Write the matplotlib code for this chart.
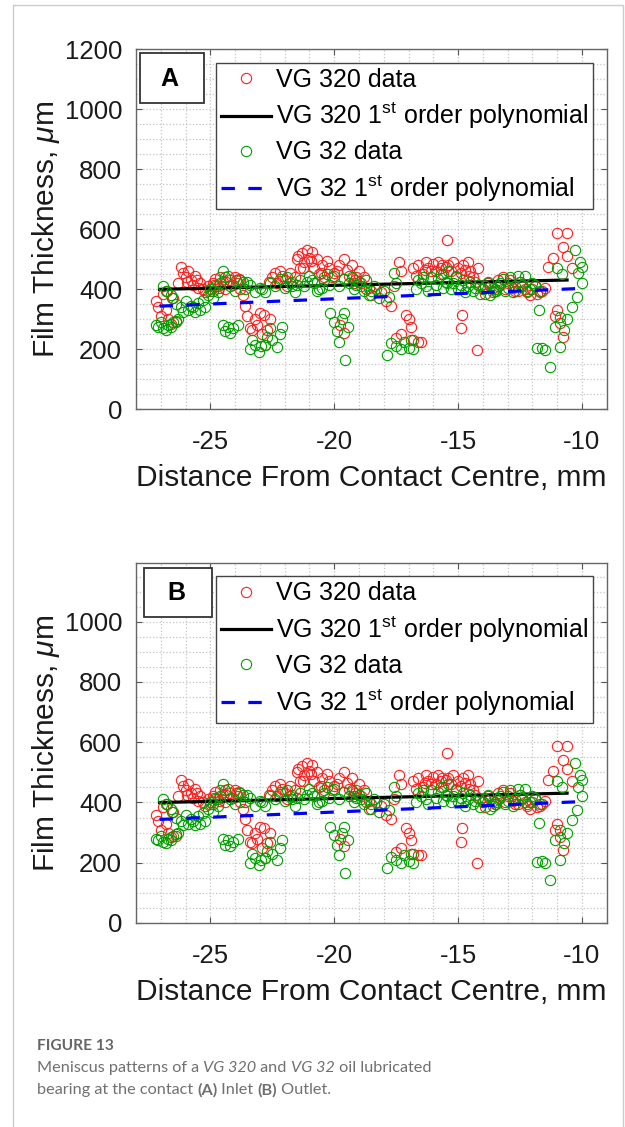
import numpy as np
import matplotlib
matplotlib.use('Agg')
import matplotlib.pyplot as plt
from matplotlib.patches import Rectangle
from matplotlib.ticker import MultipleLocator

plt.rcParams['font.family'] = ['Liberation Sans', 'DejaVu Sans']
plt.rcParams['mathtext.fontset'] = 'custom'
plt.rcParams['mathtext.rm'] = 'Liberation Sans'
plt.rcParams['mathtext.it'] = 'Liberation Sans:italic'
plt.rcParams['axes.unicode_minus'] = False

# VG 320 film thickness readings (distance mm, thickness um)
vg320_x = [-27.2, -27.1, -27.0, -26.9, -26.8, -26.7, -26.6, -26.5, -26.4, -26.3,
           -26.2, -26.1, -26.0, -25.9, -25.8, -25.7, -25.6, -25.5, -25.4, -25.3,
           -25.1, -25.0, -24.9, -24.8, -24.7, -24.6, -24.5, -24.4, -24.3, -24.2,
           -24.1, -24.0, -23.9, -23.8, -23.7, -23.6, -23.5, -23.4, -23.3, -23.2,
           -23.1, -23.0, -22.9, -22.85, -22.8, -22.7, -22.6, -22.5, -22.3, -22.1,
           -22.0, -21.8, -21.6, -21.5, -21.4, -21.3, -21.2, -21.1, -21.0, -20.9,
           -20.8, -20.7, -20.6, -20.5, -20.4, -20.2, -20.0, -19.8, -19.6, -19.5,
           -19.4, -19.3, -19.1, -19.0, -18.9, -18.7, -18.5, -18.3, -18.1, -17.9,
           -17.7, -17.6, -17.4, -17.3, -19.6, -19.75, -17.5, -17.3, -17.1, -17.0,
           -16.9, -16.8, -16.6, -16.5, -16.8, -16.6, -16.4, -16.3, -16.2, -16.0,
           -15.9, -15.8, -15.7, -15.6, -15.45, -15.4, -15.3, -15.2, -15.0, -14.9,
           -14.8, -14.7, -14.6, -14.5, -14.4, -14.3, -14.85, -14.9, -14.25, -14.1,
           -14.0, -13.8, -13.6, -13.4, -13.2, -13.0, -12.8, -12.6, -12.4, -12.2,
           -12.0, -11.8, -11.6, -11.35, -11.15, -11.0, -10.75, -10.6, -10.6, -10.4,
           -11.0, -10.9, -10.75, -11.1, -26.75, -25.95, -24.65, -23.95, -22.4, -21.9,
           -21.7, -20.3, -20.1, -19.9, -19.2, -18.8, -18.6, -16.7, -16.1, -15.5,
           -15.1, -14.2, -13.9, -13.7, -13.5, -13.3, -13.1, -12.9, -12.7, -12.5,
           -12.3, -12.1, -11.9, -11.7, -11.5, -25.2, -24.35, -22.2, -21.45, -20.95,
           -25.55, -24.85, -23.85, -22.65, -21.25, -20.55, -19.15, -16.35, -15.65, -14.55]
vg320_y = [360, 340, 310, 385, 330, 300, 285, 370, 290, 420,
           475, 455, 440, 460, 430, 415, 445, 405, 420, 400,
           410, 395, 420, 435, 410, 440, 425, 400, 445, 430,
           415, 440, 420, 400, 380, 345, 310, 270, 265, 300,
           280, 320, 250, 315, 215, 265, 300, 440, 420, 445,
           430, 455, 440, 500, 470, 520, 490, 530, 505, 525,
           470, 500, 450, 480, 440, 470, 455, 480, 500, 465,
           445, 480, 440, 460, 420, 400, 380, 400, 390, 360,
           345, 410, 490, 460, 255, 280, 237, 250, 314, 300,
           276, 230, 226, 225, 470, 480, 450, 490, 470, 485,
           460, 490, 470, 450, 565, 480, 460, 490, 470, 455,
           480, 465, 490, 460, 440, 425, 314, 270, 198, 410,
           400, 420, 405, 430, 440, 420, 405, 395, 410, 390,
           400, 385, 395, 476, 503, 587, 542, 587, 510, 470,
           330, 287, 242, 310, 395, 425, 405, 430, 455, 410,
           425, 495, 440, 460, 420, 440, 405, 445, 460, 475,
           445, 470, 385, 410, 395, 415, 400, 430, 395, 425,
           400, 380, 410, 390, 405, 390, 425, 460, 510, 495,
           430, 415, 435, 425, 470, 455, 430, 465, 480, 445]

# VG 32 film thickness readings
vg32_x = [-27.2, -27.1, -27.0, -26.9, -26.8, -26.7, -26.6, -26.5, -26.4, -26.3,
          -26.9, -26.8, -26.6, -26.4, -26.2, -26.1, -26.0, -25.9, -25.8, -25.6,
          -25.5, -25.4, -25.3, -25.2, -25.1, -25.0, -24.9, -24.8, -24.7, -24.6,
          -24.5, -24.4, -24.2, -24.0, -23.8, -23.6, -23.4, -23.2, -24.5, -24.4,
          -24.3, -24.2, -24.1, -23.9, -23.4, -23.3, -23.2, -23.05, -22.95, -22.8,
          -22.7, -22.6, -22.5, -22.3, -22.2, -22.1, -22.8, -22.6, -22.4, -22.2,
          -22.0, -21.8, -21.6, -21.4, -21.2, -21.0, -20.8, -20.6, -20.4, -20.2,
          -20.0, -19.8, -19.6, -19.4, -19.2, -19.0, -18.8, -18.6, -18.4, -18.2,
          -18.0, -17.8, -17.6, -17.5, -20.15, -20.0, -19.9, -19.8, -19.7, -19.6,
          -19.55, -19.45, -17.85, -17.7, -17.5, -17.3, -17.2, -17.0, -16.9, -16.8,
          -16.7, -16.5, -16.3, -16.1, -15.9, -15.7, -15.5, -15.3, -15.1, -14.9,
          -14.7, -14.5, -14.3, -14.1, -13.9, -13.7, -13.5, -13.3, -13.1, -12.9,
          -12.7, -12.5, -12.3, -12.1, -11.9, -11.7, -11.75, -11.8, -11.6, -11.5,
          -11.3, -10.27, -10.07, -10.0, -10.14, -10.0, -10.2, -10.4, -10.74, -10.87,
          -11.07, -10.87, -10.6, -11.0, -10.8, -26.55, -25.7, -24.9, -23.7, -23.0,
          -21.9, -21.5, -21.1, -20.7, -20.3, -19.3, -18.9, -18.5, -16.6, -16.2,
          -15.8, -15.6, -15.4, -15.2, -15.0, -14.8, -14.6, -14.4, -14.2, -14.0,
          -13.8, -13.6, -13.4, -13.2, -13.0, -12.8, -12.6, -12.4, -12.2, -12.0,
          -23.5, -22.9, -21.7, -20.9, -20.5, -19.1, -18.7, -16.4, -15.45, -13.45]
vg32_y = [280, 275, 290, 270, 265, 280, 275, 290, 295, 300,
          410, 395, 380, 350, 340, 325, 360, 330, 345, 325,
          355, 330, 365, 340, 380, 400, 370, 410, 390, 420,
          460, 440, 410, 395, 430, 400, 415, 390, 280, 260,
          275, 255, 270, 280, 200, 230, 215, 192, 210, 215,
          240, 270, 230, 208, 250, 276, 390, 420, 410, 435,
          405, 420, 390, 430, 410, 445, 420, 400, 430, 415,
          445, 410, 435, 420, 400, 425, 395, 380, 410, 370,
          395, 375, 453, 420, 320, 292, 260, 226, 300, 320,
          165, 275, 181, 220, 210, 200, 225, 205, 230, 200,
          400, 420, 410, 440, 415, 450, 425, 400, 440, 415,
          390, 425, 405, 385, 410, 380, 400, 420, 395, 440,
          410, 425, 445, 400, 415, 395, 331, 203, 205, 198,
          142, 531, 492, 476, 453, 420, 376, 342, 264, 309,
          276, 209, 300, 470, 450, 370, 340, 395, 425, 405,
          440, 415, 425, 395, 450, 440, 410, 395, 430, 395,
          435, 405, 460, 420, 400, 430, 410, 395, 415, 400,
          425, 390, 410, 435, 405, 390, 445, 415, 395, 420,
          425, 400, 410, 430, 405, 415, 430, 440, 420, 395]

# 1st order polynomial fits: [slope, intercept] and x span
fit320 = [1.89, 451.0]
fit320_x = [-27.05, -10.6]
fit32 = [3.47, 437.7]
fit32_x = [-27.05, -10.0]

fig = plt.figure(figsize=(6.25, 11.27), dpi=100)

# page frame
fig.add_artist(plt.Line2D([13/625, 13/625, 623/625, 623/625],
                          [0, 1 - 5/1127, 1 - 5/1127, 0],
                          transform=fig.transFigure, color='#cccccc', lw=1))


def panel(rect, ytop, letter, box, letter_xy, yticks):
    ax = fig.add_axes(rect)
    ax.plot(vg320_x, vg320_y, 'o', mfc='none', mec='#ff2020', ms=7.4, mew=0.8,
            label='VG 320 data')
    fx = np.array(fit320_x)
    ax.plot(fx, np.polyval(fit320, fx), '-', color='black', lw=2.3,
            label=r'VG 320 1$^{\mathrm{st}}$ order polynomial')
    ax.plot(vg32_x, vg32_y, 'o', mfc='none', mec='#00a000', ms=7.4, mew=0.8,
            label='VG 32 data')
    fx = np.array(fit32_x)
    ax.plot(fx, np.polyval(fit32, fx), '--', color='#0000ff', lw=2.3,
            dashes=(4.2, 4.2), label=r'VG 32 1$^{\mathrm{st}}$ order polynomial')

    ax.set_xlim(-28, -9)
    ax.set_ylim(0, ytop)
    ax.set_xticks([-25, -20, -15, -10])
    ax.set_yticks(yticks)
    ax.xaxis.set_minor_locator(MultipleLocator(1))
    ax.yaxis.set_minor_locator(MultipleLocator(50))
    ax.grid(which='both', ls=':', color='#c4c4c4', lw=0.9)
    ax.set_axisbelow(True)
    ax.tick_params(which='major', direction='in', top=True, right=True,
                   length=4, width=0.8, color='#555555', labelsize=18.5,
                   labelcolor='#1a1a1a')
    ax.tick_params(axis='x', which='major', pad=15)
    ax.tick_params(axis='y', which='major', pad=10)
    ax.tick_params(which='minor', length=0)
    for s in ax.spines.values():
        s.set_color('#666666')
        s.set_linewidth(1.0)

    ax.set_xlabel('Distance From Contact Centre, mm', fontsize=21.5, color='#1a1a1a')
    ax.set_ylabel('Film Thickness, $\\mu$m', fontsize=21.5, color='#1a1a1a')
    ax.xaxis.set_label_coords(0.5, -0.153)
    ax.yaxis.set_label_coords(-0.157, 0.5)

    leg = ax.legend(loc='upper left', bbox_to_anchor=(0.170, 0.963),
                    borderaxespad=0, fontsize=18, fancybox=False,
                    framealpha=1, edgecolor='#444444', handlelength=2.0,
                    handletextpad=0.2, borderpad=0.2, labelspacing=0.36)
    leg.get_frame().set_linewidth(1.0)

    ax.add_patch(Rectangle(box[:2], box[2], box[3], transform=ax.transAxes,
                           fc='white', ec='#333333', lw=1.3, zorder=5))
    ax.text(letter_xy[0], letter_xy[1], letter, transform=ax.transAxes,
            fontsize=18, weight='bold', ha='center', va='center', zorder=6)
    return ax


panel([136/625, 1 - 409.3/1127, 470.7/625, 360/1127], 1200, 'A',
      (0.0085, 0.85, 0.136, 0.139), (0.0708, 0.917),
      [0, 200, 400, 600, 800, 1000, 1200])
panel([136/625, 1 - 923/1127, 470.7/625, 360/1127], 1195, 'B',
      (0.017, 0.849, 0.144, 0.136), (0.085, 0.916),
      [0, 200, 400, 600, 800, 1000])

# caption
fig.canvas.draw()
rend = fig.canvas.get_renderer()
cap_font = ['Lato', 'DejaVu Sans']
fig.text(37/625, 1 - 1046/1127, 'FIGURE 13', fontsize=11.2, family=cap_font,
         weight='bold', color='#666666', va='center')


def rich_line(x, y, parts):
    for s, style, weight in parts:
        t = fig.text(x, y, s, fontsize=11.7, family=cap_font, style=style,
                     weight=weight, color='#707070', va='center')
        bb = t.get_window_extent(renderer=rend)
        x += bb.width / fig.bbox.width


rich_line(37/625, 1 - 1068/1127, [('Meniscus patterns of a ', 'normal', 'normal'),
                                  ('VG 320', 'italic', 'normal'),
                                  (' and ', 'normal', 'normal'),
                                  ('VG 32', 'italic', 'normal'),
                                  (' oil lubricated', 'normal', 'normal')])
rich_line(37/625, 1 - 1090/1127, [('bearing at the contact ', 'normal', 'normal'),
                                  ('(A)', 'normal', 'bold'),
                                  (' Inlet ', 'normal', 'normal'),
                                  ('(B)', 'normal', 'bold'),
                                  (' Outlet.', 'normal', 'normal')])

fig.savefig('out.png', dpi=100)
